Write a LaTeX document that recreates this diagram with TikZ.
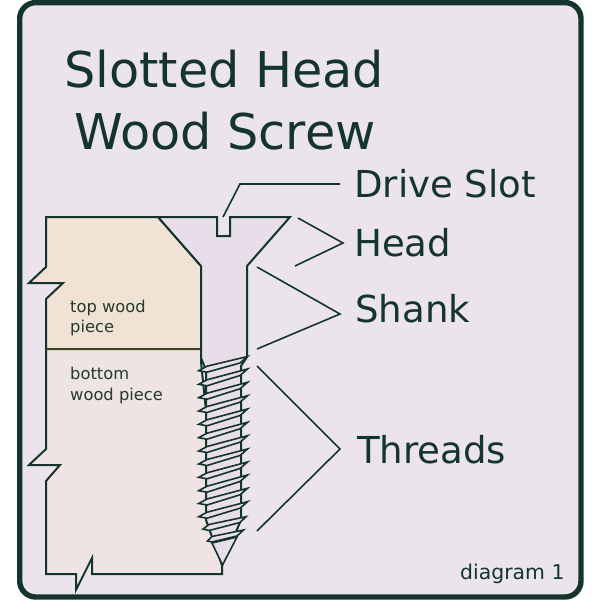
\documentclass[tikz,border=0pt]{standalone}
\usepackage{fontspec}
\setmainfont{DejaVu Sans}
\definecolor{ink}{HTML}{14352B}
\definecolor{bg}{HTML}{EBE4EC}
\definecolor{topw}{HTML}{F1E2D6}
\definecolor{botw}{HTML}{EEE4E3}
\definecolor{screw}{HTML}{E8DEEA}
\definecolor{olive}{HTML}{3C4420}
\tikzset{
 x=1pt,y=-1pt,
 edge/.style={draw=ink,line width=2pt,line join=miter},
 lead/.style={draw=ink,line width=1.6pt},
 big/.style={font=\fontsize{37.1}{37}\selectfont,text=ink,anchor=base west,inner sep=0},
 title/.style={font=\fontsize{49.3}{49}\selectfont,text=ink,anchor=base west,inner sep=0},
 small/.style={font=\fontsize{16.3}{20.5}\selectfont,text=olive!40!ink,anchor=north west,inner sep=0,align=left},
 leaf/.style={edge,fill=screw,line width=1.6pt},
}
\begin{document}
\begin{tikzpicture}
\useasboundingbox (0,0) rectangle (600,600);
\draw[draw=ink,fill=bg,line width=5.4pt,rounded corners=16pt] (19.7,2.6) rectangle (581,597);
% wood
\path[edge,fill=topw] (46,217) -- (158,217) -- (201,266) -- (201,349) -- (46,349) -- (46,299) -- (63,283) -- (29,283) -- (46,267) -- cycle;
\path[edge,fill=botw] (46,349) -- (201,349) -- (201,362) -- (222,565) -- (222,574) -- (92,574) -- (92,558) -- (76,590) -- (76,574) -- (46,574) -- (46,481) -- (60,465) -- (29,465) -- (46,449) -- cycle;
\draw[olive,line width=2pt] (46,349) -- (201,349);
% screw
\path[edge,fill=screw] (158,217) -- (217,217) -- (217,236) -- (230,236) -- (230,217) -- (290,217) -- (247,266) -- (247,357) -- (241,366) -- (241,520) -- (222,565) -- (206,520) -- (206,370) -- (201,358) -- (201,266) -- cycle;
\foreach \ly/\ry in {370.7/356.5,384.3/369,397.7/382.3,411/395.7,424.3/409,437.7/422.3,451/435.7,464/449,477.3/462,490.7/475,503.5/488.3,516.7/501.7}
  \path[leaf] (198.7,\ly) -- (207,\ly-4.5) -- (247.5,\ry) -- (240,\ry+6.5) -- (207,\ly+1.5) -- cycle;
\path[leaf] (203,529) -- (209,524.5) -- (246,516.7) -- (240,522.5) -- (209,530.5) -- cycle;
\path[leaf] (207.5,541) -- (212,536.5) -- (243.5,530) -- (237,536) -- (212,542) -- cycle;
\path[leaf] (212,543) -- (237,537) -- (222.5,565) -- cycle;
% leaders
\coordinate (ds0) at (223,217); \coordinate (ds1) at (240,184); \coordinate (ds2) at (340,184);
\draw[lead] (ds0) -- (ds1) -- (ds2);
\coordinate (h0) at (298,218); \coordinate (h1) at (343,243); \coordinate (h2) at (295,266);
\draw[lead] (h0) -- (h1) -- (h2);
\coordinate (s0) at (257,267); \coordinate (s1) at (340,314); \coordinate (s2) at (257,349);
\draw[lead] (s0) -- (s1) -- (s2);
\coordinate (t0) at (257,366); \coordinate (t1) at (340,449); \coordinate (t2) at (257,531);
\draw[lead] (t0) -- (t1) -- (t2);
% text
\node[title] (t1n) at (64,87) {Slotted Head};
\node[title] (t2n) at (74,149) {Wood Screw};
\node[big] (nds) at (354,197) {Drive Slot};
\node[big] (nh) at (354,256) {Head};
\node[big] (ns) at (355,322) {Shank};
\node[big] (nt) at (357,463) {Threads};
\node[small] (n1) at (70,299.5) {top wood\\piece};
\node[small] (n2) at (70,367) {bottom\\wood piece};
\node[font=\fontsize{20.4}{20}\selectfont,text=ink,anchor=base west,inner sep=0] (nd) at (460,579) {diagram 1};
\end{tikzpicture}
\end{document}
